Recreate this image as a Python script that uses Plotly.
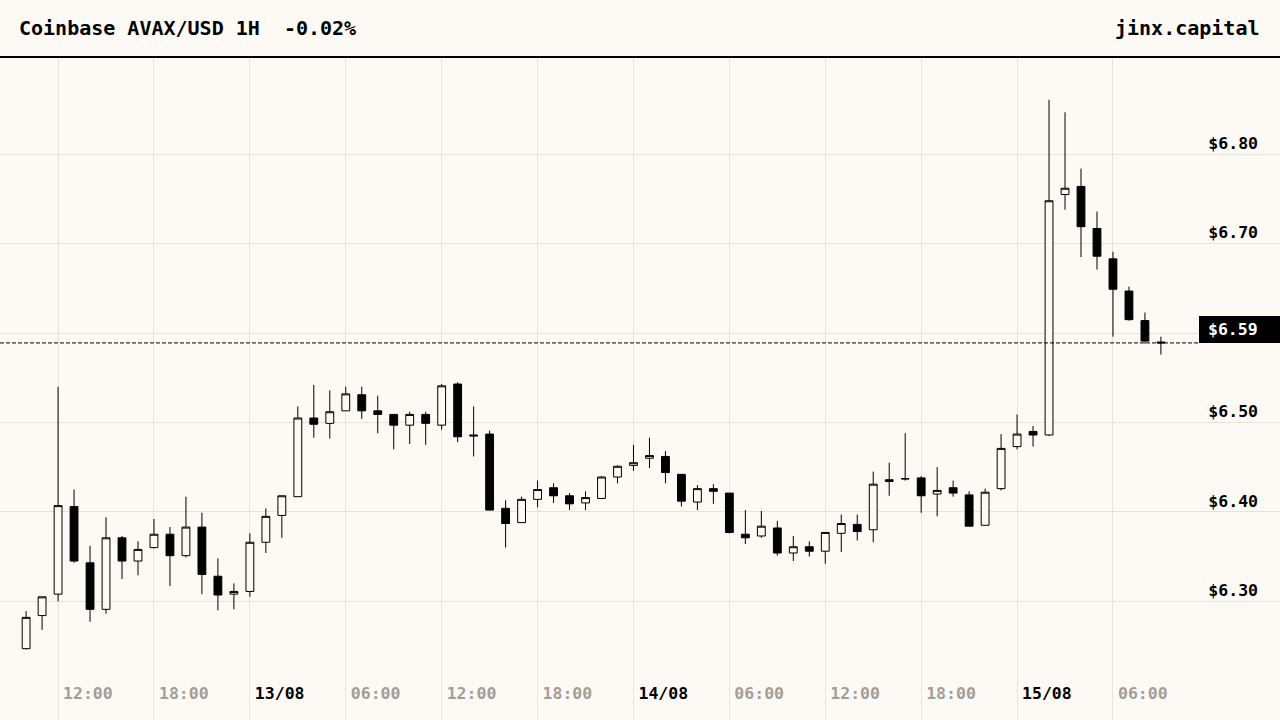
import pandas as pd
import plotly.graph_objects as go

# hourly candles, Coinbase AVAX/USD, 12/08 10:00 -> 15/08 09:00
start = "2023-08-12 10:00"
n_candles = 72

opens = [6.247, 6.284, 6.308, 6.406, 6.343, 6.291, 6.371, 6.345, 6.360, 6.375,
         6.351, 6.383, 6.328, 6.308, 6.311, 6.366, 6.396, 6.417, 6.505, 6.499,
         6.513, 6.531, 6.513, 6.509, 6.497, 6.509, 6.497, 6.543, 6.486, 6.487,
         6.404, 6.388, 6.414, 6.427, 6.418, 6.410, 6.415, 6.439, 6.452, 6.460,
         6.462, 6.442, 6.411, 6.426, 6.421, 6.375, 6.373, 6.382, 6.354, 6.361,
         6.356, 6.376, 6.386, 6.380, 6.434, 6.437, 6.438, 6.420, 6.427, 6.419,
         6.385, 6.426, 6.473, 6.490, 6.486, 6.755, 6.764, 6.717, 6.683, 6.647,
         6.614, 6.590]
highs = [6.289, 6.305, 6.540, 6.425, 6.362, 6.394, 6.373, 6.367, 6.392, 6.383,
         6.417, 6.399, 6.348, 6.320, 6.376, 6.404, 6.418, 6.518, 6.542, 6.536,
         6.540, 6.540, 6.530, 6.509, 6.512, 6.512, 6.543, 6.545, 6.518, 6.491,
         6.413, 6.417, 6.435, 6.432, 6.421, 6.423, 6.440, 6.452, 6.475, 6.483,
         6.468, 6.442, 6.430, 6.431, 6.421, 6.402, 6.401, 6.390, 6.373, 6.367,
         6.377, 6.397, 6.397, 6.445, 6.455, 6.488, 6.440, 6.450, 6.435, 6.423,
         6.426, 6.487, 6.509, 6.496, 6.861, 6.847, 6.784, 6.736, 6.691, 6.652,
         6.623, 6.596]
lows = [6.246, 6.268, 6.300, 6.343, 6.277, 6.286, 6.325, 6.329, 6.359, 6.317,
        6.349, 6.308, 6.290, 6.291, 6.305, 6.354, 6.371, 6.417, 6.483, 6.482,
        6.513, 6.504, 6.488, 6.470, 6.476, 6.475, 6.492, 6.478, 6.462, 6.402,
        6.360, 6.388, 6.405, 6.410, 6.402, 6.402, 6.415, 6.432, 6.446, 6.449,
        6.432, 6.406, 6.402, 6.409, 6.376, 6.364, 6.371, 6.351, 6.345, 6.350,
        6.342, 6.355, 6.368, 6.366, 6.418, 6.435, 6.399, 6.395, 6.417, 6.384,
        6.385, 6.424, 6.470, 6.473, 6.485, 6.738, 6.685, 6.671, 6.596, 6.614,
        6.588, 6.576]
closes = [6.282, 6.305, 6.407, 6.345, 6.291, 6.371, 6.345, 6.358, 6.375, 6.351,
          6.383, 6.330, 6.307, 6.311, 6.366, 6.395, 6.418, 6.505, 6.498, 6.512,
          6.532, 6.513, 6.509, 6.497, 6.509, 6.499, 6.541, 6.484, 6.485, 6.402,
          6.387, 6.414, 6.425, 6.418, 6.409, 6.416, 6.439, 6.451, 6.455, 6.463,
          6.444, 6.412, 6.426, 6.423, 6.377, 6.371, 6.384, 6.354, 6.361, 6.356,
          6.377, 6.387, 6.378, 6.431, 6.436, 6.437, 6.418, 6.424, 6.421, 6.384,
          6.422, 6.471, 6.487, 6.486, 6.748, 6.762, 6.719, 6.686, 6.649, 6.615,
          6.591, 6.589]

tick_times = ["2023-08-12 12:00", "2023-08-12 18:00", "2023-08-13 00:00", "2023-08-13 06:00",
              "2023-08-13 12:00", "2023-08-13 18:00", "2023-08-14 00:00", "2023-08-14 06:00",
              "2023-08-14 12:00", "2023-08-14 18:00", "2023-08-15 00:00", "2023-08-15 06:00"]
tick_labels = ["12:00", "18:00", "13/08", "06:00", "12:00", "18:00", "14/08", "06:00",
               "12:00", "18:00", "15/08", "06:00"]
price_ticks = [6.30, 6.40, 6.50, 6.60, 6.70, 6.80]

title = "Coinbase AVAX/USD 1H\u00a0 -0.02%"
brand = "jinx.capital"

times = pd.date_range(start, periods=n_candles, freq="h")
last = closes[-1]

BG = "#fdfaf5"
GRID = "#e6e2dc"
GREY = "#a39e98"
FONT = "DejaVu Sans Mono"

ticktext = []
for lab in tick_labels:
    if "/" in lab:
        ticktext.append(f"<b><span style='color:#000000'>{lab}</span></b>")
    else:
        ticktext.append(f"<b>{lab}</b>")

# price labels; the one hidden behind the last-price tag is left blank
price_text = []
for v in price_ticks:
    if 0 <= v - last < 0.03:
        price_text.append("")
    else:
        price_text.append(f"<b>${v:.2f}</b>")

fig = go.Figure(go.Candlestick(
    x=times, open=opens, high=highs, low=lows, close=closes,
    increasing=dict(line=dict(color="#000000", width=1), fillcolor=BG),
    decreasing=dict(line=dict(color="#000000", width=1), fillcolor="#000000"),
    whiskerwidth=0,
    hoverinfo="skip",
))

fig.update_layout(
    width=1280, height=720,
    paper_bgcolor=BG, plot_bgcolor=BG,
    margin=dict(l=0, r=0, t=57, b=0),
    showlegend=False,
    hovermode=False,
    font=dict(family=FONT, color="#000000"),
    xaxis=dict(
        type="date",
        range=["2023-08-12 08:22", "2023-08-15 16:27"],
        rangeslider=dict(visible=False),
        tickmode="array", tickvals=tick_times, ticktext=ticktext,
        ticklabelposition="inside right",
        tickfont=dict(family=FONT, size=16.5, color=GREY),
        ticks="", showline=False, zeroline=False,
        showgrid=True, gridcolor=GRID, gridwidth=1,
        ticklabelstandoff=12, ticklabelshift=5,
    ),
    yaxis=dict(
        side="right",
        range=[6.1672, 6.9088],
        tickmode="array", tickvals=price_ticks, ticktext=price_text,
        ticklabelposition="inside",
        tickfont=dict(family=FONT, size=16.5, color="#000000"),
        ticklabelshift=-11, ticklabelstandoff=19,
        ticks="", showline=False, zeroline=False,
        showgrid=True, gridcolor=GRID, gridwidth=1,
    ),
    shapes=[
        # header rule
        dict(type="line", xref="paper", yref="paper", x0=0, x1=1, y0=1, y1=1,
             line=dict(color="#000000", width=2), layer="above"),
        # last price line
        dict(type="line", xref="paper", yref="y", x0=0, x1=1 - 81 / 1280, y0=last, y1=last,
             line=dict(color="#000000", width=1, dash="4px,2px"), layer="above"),
        # last price tag
        dict(type="rect", xref="paper", yref="y",
             xsizemode="pixel", xanchor=1, x0=-81, x1=0,
             ysizemode="pixel", yanchor=last, y0=0, y1=27,
             fillcolor="#000000", line=dict(width=0), layer="above"),
    ],
    annotations=[
        dict(text=f"<b>{title}</b>", xref="paper", yref="paper", x=0, xshift=17,
             y=1 + 29 / 663, xanchor="left", yanchor="middle", showarrow=False,
             font=dict(family=FONT, size=20, color="#000000")),
        dict(text=f"<b>{brand}</b>", xref="paper", yref="paper", x=1, xshift=-18,
             y=1 + 29 / 663, xanchor="right", yanchor="middle", showarrow=False,
             font=dict(family=FONT, size=20, color="#000000")),
        dict(text=f"<b>${last:.2f}</b>", xref="paper", yref="y", x=1, xshift=-20,
             y=last, yshift=13, xanchor="right", yanchor="middle", showarrow=False,
             font=dict(family=FONT, size=16.5, color="#ffffff")),
    ],
)

fig.write_html("out.html", config={"displayModeBar": False},
               post_script="document.body.style.margin='0';")
